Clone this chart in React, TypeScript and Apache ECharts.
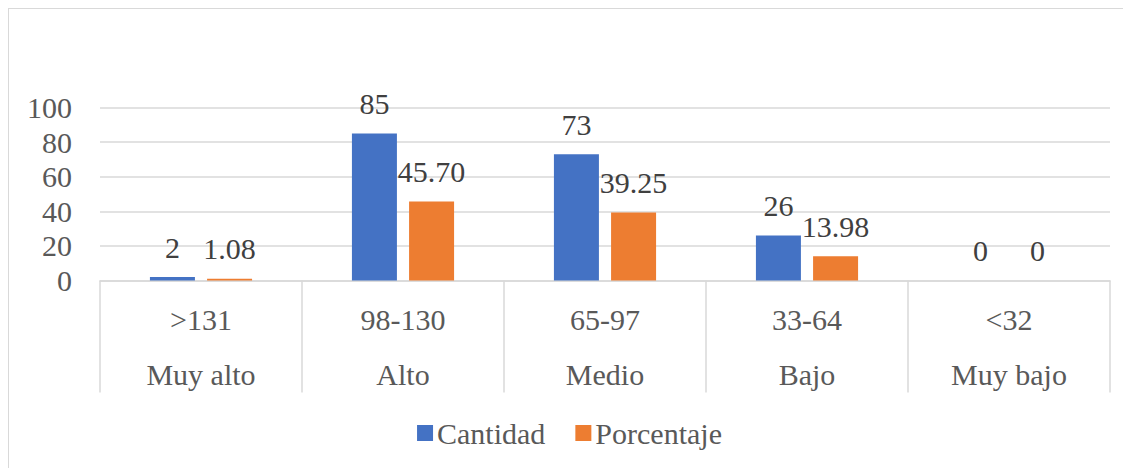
import React, { useEffect, useRef } from "react";
import * as echarts from "echarts";

const rangos = [">131", "98-130", "65-97", "33-64", "<32"];
const niveles = ["Muy alto", "Alto", "Medio", "Bajo", "Muy bajo"];
const cantidad = [2, 85, 73, 26, 0];
const porcentaje = [1.08, 45.7, 39.25, 13.98, 0];
const yTicks = { min: 0, max: 100, interval: 20 };

const FONT = "Liberation Serif";
const TXT = "#595959";
const GRID = "#d9d9d9";
const FS = 30;

export default function App() {
  const ref = useRef<HTMLDivElement>(null);
  useEffect(() => {
    if (!ref.current) return;
    const chart = echarts.init(ref.current, null, { renderer: "svg" });
    const cats = rangos.map((r, i) => r + "\n" + niveles[i]);
    const labelStyle = {
      show: true,
      position: "top",
      distance: 15,
      fontFamily: FONT,
      fontSize: FS,
      color: "#404040",
    };
    chart.setOption({
      animation: false,
      textStyle: { fontFamily: FONT },
      grid: { left: 91, right: 20, top: 98.5, height: 173, containLabel: false },
      legend: {
        top: 404,
        left: "center",
        itemWidth: 16,
        itemHeight: 16,
        itemGap: 30,
        icon: "rect",
        textStyle: { fontFamily: FONT, fontSize: FS, color: TXT, padding: [0, 0, 0, -1] },
        data: ["Cantidad", "Porcentaje"],
      },
      xAxis: {
        type: "category",
        data: cats,
        axisLine: { show: true, lineStyle: { color: GRID, width: 1.5 } },
        axisTick: { show: true, length: 112, lineStyle: { color: GRID, width: 1.5 } },
        axisLabel: {
          fontFamily: FONT,
          fontSize: FS,
          color: TXT,
          lineHeight: 55,
          margin: 11,
          interval: 0,
        },
      },
      yAxis: {
        type: "value",
        min: yTicks.min,
        max: yTicks.max,
        interval: yTicks.interval,
        axisLine: { show: false },
        axisTick: { show: false },
        axisLabel: { fontFamily: FONT, fontSize: FS, color: TXT, margin: 28 },
        splitLine: { lineStyle: { color: GRID, width: 1.5 } },
      },
      series: [
        {
          name: "Cantidad",
          type: "bar",
          data: cantidad,
          barWidth: 45,
          barGap: "27%",
          itemStyle: { color: "#4472C4" },
          label: { ...labelStyle, formatter: (p: any) => String(p.value) },
        },
        {
          name: "Porcentaje",
          type: "bar",
          data: porcentaje,
          barWidth: 45,
          itemStyle: { color: "#ED7D31" },
          label: {
            ...labelStyle,
            formatter: (p: any) => (p.value === 0 ? "0" : Number(p.value).toFixed(2)),
          },
        },
      ],
    });
    return () => chart.dispose();
  }, []);
  return (
    <div
      style={{
        width: 1123,
        height: 460,
        boxSizing: "border-box",
        borderTop: "1.5px solid #d9d9d9",
        borderLeft: "1.5px solid #d9d9d9",
      }}
    >
      <div ref={ref} style={{ width: 1121, height: 458 }} />
    </div>
  );
}
